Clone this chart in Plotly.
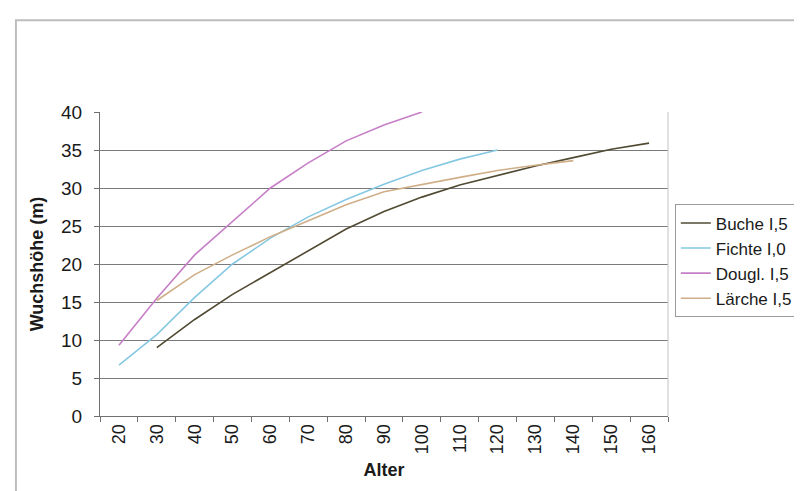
import plotly.graph_objects as go

# Alter (Jahre) als Kategorien
ages = [20, 30, 40, 50, 60, 70, 80, 90, 100, 110, 120, 130, 140, 150, 160]
age_labels = [str(a) for a in ages]

# Wuchshöhe (m)
buche = [None, 9.0, 12.7, 16.0, 18.9, 21.8, 24.6, 26.9, 28.8, 30.4, 31.7, 32.9, 34.0, 35.1, 35.9]
fichte = [6.7, 10.7, 15.6, 20.0, 23.4, 26.2, 28.5, 30.5, 32.3, 33.8, 35.0, None, None, None, None]
dougl = [9.3, 15.5, 21.2, 25.6, 30.0, 33.3, 36.2, 38.3, 40.0, None, None, None, None, None, None]
laerche = [None, 15.2, 18.6, 21.2, 23.6, 25.7, 27.8, 29.5, 30.5, 31.4, 32.3, 33.0, 33.6, None, None]

series = [
    ('Buche I,5', buche, '#514a33'),
    ('Fichte I,0', fichte, '#86c8e2'),
    ('Dougl. I,5', dougl, '#c67fc6'),
    ('Lärche I,5', laerche, '#cfae88'),
]

FONT = 'Liberation Sans, Arial, sans-serif'

fig = go.Figure()
for name, vals, col in series:
    fig.add_trace(go.Scatter(
        x=age_labels, y=vals, mode='lines', name=name,
        legendgroup=name,
        line=dict(color=col, width=1.6),
    ))

fig.update_layout(
    width=802, height=491,
    margin=dict(l=92, r=135, t=104, b=83),
    paper_bgcolor='white', plot_bgcolor='white',
    font=dict(family=FONT, size=18, color='#1a1a1a'),
    showlegend=True,
    legend=dict(
        x=1.012, y=0.696, xanchor='left', yanchor='top',
        bordercolor='#9a9a9a', borderwidth=1,
        font=dict(size=17), itemwidth=30, tracegroupgap=0,
        bgcolor='white',
    ),
    xaxis=dict(
        type='category', categoryorder='array', categoryarray=age_labels,
        range=[-0.5, len(ages) - 0.5],
        tickson='boundaries', ticks='outside', ticklen=5, tickcolor='#707070',
        showline=True, linecolor='#707070', linewidth=1,
        showgrid=False, tickangle=-90, tickfont=dict(size=18),
        title=dict(text='<b>Alter</b>', font=dict(size=18), standoff=10),
    ),
    yaxis=dict(
        range=[0, 40], dtick=5, ticks='outside', ticklen=5, tickcolor='#707070',
        showline=True, linecolor='#707070', linewidth=1,
        gridcolor='#7a7a7a', gridwidth=1, zeroline=False,
        tickfont=dict(size=19), ticklabelstandoff=8,
        title=dict(text='<b>Wuchshöhe (m)</b>', font=dict(size=18), standoff=12),
    ),
    shapes=[
        # rechter Rand der Zeichenfläche
        dict(type='line', xref='paper', yref='paper', x0=1, x1=1, y0=0, y1=1,
             line=dict(color='#c4c4c4', width=1)),
        # äußerer Diagrammrahmen
        dict(type='rect', xref='paper', yref='paper', x0=-0.148, x1=1.6, y0=-0.6, y1=1.302,
             line=dict(color='#bdbdbd', width=2), layer='below'),
    ],
)

fig.write_html('out.html')
